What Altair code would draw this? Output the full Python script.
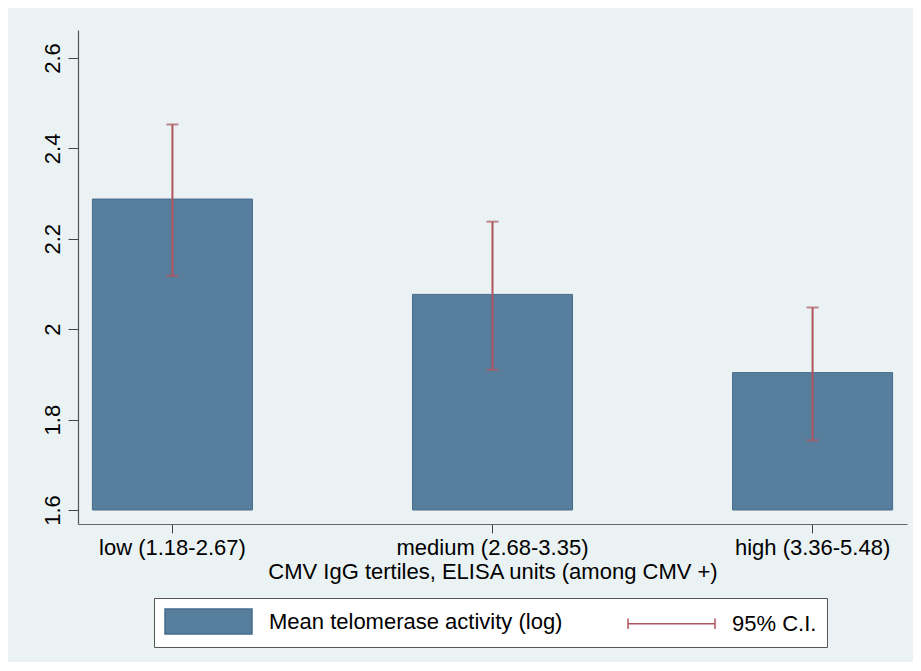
import altair as alt
import pandas as pd

# ---- data ----
categories = ["low (1.18-2.67)", "medium (2.68-3.35)", "high (3.36-5.48)"]
means = [2.288, 2.077, 1.904]
ci_low = [2.118, 1.910, 1.754]
ci_high = [2.453, 2.238, 2.048]
y_ticks = [1.6, 1.8, 2.0, 2.2, 2.4, 2.6]
legend_labels = ["Mean telomerase activity (log)", "95% C.I."]
x_title = "CMV IgG tertiles, ELISA units (among CMV +)"

df = pd.DataFrame({"group": categories, "mean": means, "lo": ci_low, "hi": ci_high})
legend_df = pd.DataFrame({"series": legend_labels})

FONT = "Liberation Sans"
FS = 22
BAR_FILL = "#587E9E"
BAR_STROKE = "#476C8D"
CI_COLOR = "#B0555E"
BG = "#EAF2F3"

x_enc = alt.X(
    "group:N",
    sort=categories,
    title=x_title,
    scale=alt.Scale(paddingInner=0.5, paddingOuter=0.045),
    axis=alt.Axis(
        labelAngle=0, labelFont=FONT, labelFontSize=FS, labelColor="black",
        labelPadding=4, labelLimit=500, tickSize=9, tickColor="#444",
        domainColor="#666", domainWidth=1.2, titleFont=FONT, titleFontSize=FS,
        titleFontWeight="normal", titleColor="black", titlePadding=3, grid=False,
    ),
)

y_scale = alt.Scale(domain=[1.569, 2.662], nice=False, zero=False)

bars = alt.Chart(df).mark_bar(fill=BAR_FILL, stroke=BAR_STROKE, strokeWidth=1).encode(
    x=x_enc,
    y=alt.Y(
        "mean:Q",
        scale=y_scale,
        title=None,
        axis=alt.Axis(
            values=y_ticks, format=".1~f", labelAngle=270, labelAlign="center",
            labelBaseline="bottom", labelPadding=4, labelFont=FONT,
            labelFontSize=FS, labelColor="black", labelOverlap=False,
            tickSize=10, tickColor="#444", domainColor="#555", domainWidth=1.2,
            grid=True, gridColor=BG, gridWidth=1.2,
        ),
    ),
    y2=alt.datum(1.6),
)

rules = alt.Chart(df).mark_rule(color=CI_COLOR, strokeWidth=2).encode(
    x=alt.X("group:N", sort=categories), y="lo:Q", y2="hi:Q"
)
cap_lo = alt.Chart(df).mark_tick(color=CI_COLOR, thickness=2, size=12).encode(
    x=alt.X("group:N", sort=categories), y="lo:Q"
)
cap_hi = alt.Chart(df).mark_tick(color=CI_COLOR, thickness=2, size=12).encode(
    x=alt.X("group:N", sort=categories), y="hi:Q"
)

rect_path = "M-1,-1H5.96V1H-1Z"
ci_path = "M-1,0H5.96M-1,-0.42V0.42M5.96,-0.42V0.42"

leg_def = alt.Legend(
    orient="none", legendX=76, legendY=568, direction="horizontal", title=None,
    padding=10, strokeColor="#555", fillColor="white", labelFont=FONT,
    labelFontSize=FS, labelColor="black", labelLimit=500, labelOffset=78,
    columnPadding=62, symbolSize=625, symbolStrokeWidth=1.5, symbolOffset=0,
)

legend_layer = alt.Chart(legend_df).mark_point(filled=True, opacity=1, size=625).encode(
    fill=alt.Fill("series:N", scale=alt.Scale(domain=legend_labels, range=[BAR_FILL, "transparent"]), legend=leg_def),
    stroke=alt.Stroke("series:N", scale=alt.Scale(domain=legend_labels, range=[BAR_STROKE, CI_COLOR]), legend=leg_def),
    shape=alt.Shape("series:N", scale=alt.Scale(domain=legend_labels, range=[rect_path, ci_path]), legend=leg_def),
).transform_filter("false")

chart = (
    alt.layer(bars, rules, cap_lo, cap_hi, legend_layer)
    .properties(
        width=829, height=494,
        autosize=alt.AutoSizeParams(type="none"),
        padding={"left": 70, "top": 22, "right": 6, "bottom": 138},
        background=BG,
    )
    .configure_view(fill="white", stroke=None)
)

chart.save("out.html", embed_options={"renderer": "svg", "actions": False})
